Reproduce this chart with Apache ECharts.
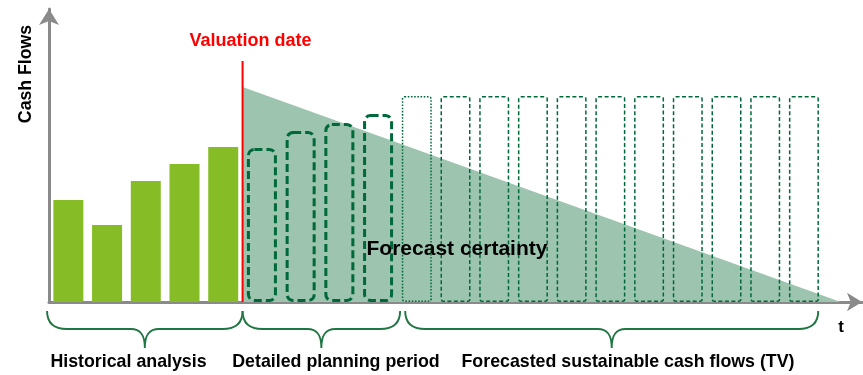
<!DOCTYPE html>
<html>
<head>
<meta charset="utf-8">
<title>Cash flow valuation periods</title>
<script src="https://cdn.jsdelivr.net/npm/echarts@6/dist/echarts.min.js"></script>
<style>
  html, body { margin: 0; padding: 0; background: #ffffff; }
  #chart { width: 863px; height: 375px; }
</style>
</head>
<body>
<div id="chart"></div>
<script>
// Periods are numbered from 0; each bar sits on its period index.
const historicalPeriods = [0, 1, 2, 3, 4];
const historicalCashFlows = [102, 77, 121, 138, 155];

const planningPeriods = [5, 6, 7, 8];
const planningCashFlows = [154, 171, 179, 188];

const terminalPeriods = [9, 10, 11, 12, 13, 14, 15, 16, 17, 18, 19];
const terminalCashFlows = [206, 206, 206, 206, 206, 206, 206, 206, 206, 206, 206];

// Valuation date sits between the last historical and first planned period.
const valuationDate = 4.5;
const valuationLineTop = 241;

// Forecast certainty wedge: full at the valuation date, zero at the horizon.
const certaintyX = [4.5, 19.95];
const certaintyY = [215, 0];

// Period ranges spanned by the three braces under the time axis.
const braceRanges = [[-0.55, 4.5], [4.5, 8.57], [8.7, 19.37]];
const sectionLabels = ['Historical analysis', 'Detailed planning period', 'Forecasted sustainable cash flows (TV)'];

const FONT = "'Liberation Sans', Arial, Helvetica, sans-serif";
const AXIS_GREY = '#8a8a8a';
const HIST_GREEN = '#86bc25';
const DARK_GREEN = '#00693a';
const WEDGE_GREEN = '#9cc4af';
const BRACE_GREEN = '#1f7642';

const chart = echarts.init(document.getElementById('chart'), null, { renderer: 'canvas' });

const pairs = (xs, ys) => xs.map((x, i) => [x, ys[i]]);

const option = {
  animation: false,
  backgroundColor: '#ffffff',
  grid: { left: 49, right: 1, top: 9, bottom: 73, containLabel: false },
  xAxis: {
    type: 'value',
    min: -0.5,
    max: 20.5,
    axisLine: {
      show: true,
      onZero: false,
      symbol: ['none', 'arrow'],
      symbolSize: [14, 15],
      lineStyle: { color: AXIS_GREY, width: 3 }
    },
    axisTick: { show: false },
    axisLabel: { show: false },
    splitLine: { show: false }
  },
  yAxis: {
    type: 'value',
    min: 0,
    max: 293,
    axisLine: {
      show: true,
      onZero: false,
      symbol: ['none', 'arrow'],
      symbolSize: [15, 16],
      lineStyle: { color: AXIS_GREY, width: 3 }
    },
    axisTick: { show: false },
    axisLabel: { show: false },
    splitLine: { show: false }
  },
  series: [
    {
      name: 'Forecast certainty',
      type: 'line',
      data: pairs(certaintyX, certaintyY),
      symbol: 'none',
      lineStyle: { width: 0 },
      areaStyle: { color: WEDGE_GREEN, opacity: 1 },
      z: 1
    },
    {
      name: 'Historical',
      type: 'bar',
      data: pairs(historicalPeriods, historicalCashFlows),
      barWidth: 30,
      barGap: '-100%',
      itemStyle: { color: HIST_GREEN },
      z: 3
    },
    {
      name: 'Planning',
      type: 'bar',
      data: pairs(planningPeriods, planningCashFlows),
      barWidth: 30,
      barGap: '-100%',
      itemStyle: {
        color: 'rgba(0,0,0,0)',
        borderColor: DARK_GREEN,
        borderWidth: 3,
        borderType: [8, 4],
        borderRadius: 6
      },
      z: 4
    },
    {
      name: 'Terminal value',
      type: 'bar',
      data: pairs(terminalPeriods, terminalCashFlows).map((d, i) => i === 0
        ? { value: d, itemStyle: { borderType: [1.6, 1.6] } }
        : d),
      barWidth: 30,
      barGap: '-100%',
      itemStyle: {
        color: 'rgba(0,0,0,0)',
        borderColor: DARK_GREEN,
        borderWidth: 1.5,
        borderType: [4, 2.5],
        borderRadius: 2
      },
      z: 4
    },
    {
      name: 'Valuation date',
      type: 'line',
      data: [[valuationDate, 0], [valuationDate, valuationLineTop]],
      symbol: 'none',
      lineStyle: { color: '#ff0000', width: 2 },
      z: 5
    },
    {
      name: 'Braces',
      type: 'custom',
      clip: false,
      data: braceRanges.map(r => [r[0], r[1], 0]),
      encode: { x: [0, 1], y: 2 },
      renderItem: function (params, api) {
        const a = api.coord([api.value(0), 0]);
        const b = api.coord([api.value(1), 0]);
        const x0 = a[0], x1 = b[0], xm = (x0 + x1) / 2;
        const yTop = a[1] + 9, yMid = yTop + 18, yTip = yMid + 19;
        const re = 20, rt = 14;
        const d = 'M' + x0 + ' ' + yTop +
          ' C' + x0 + ' ' + (yMid - 6) + ' ' + (x0 + 6) + ' ' + yMid + ' ' + (x0 + re) + ' ' + yMid +
          ' L' + (xm - rt) + ' ' + yMid +
          ' C' + (xm - 4) + ' ' + yMid + ' ' + xm + ' ' + (yMid + 6) + ' ' + xm + ' ' + yTip +
          ' C' + xm + ' ' + (yMid + 6) + ' ' + (xm + 4) + ' ' + yMid + ' ' + (xm + rt) + ' ' + yMid +
          ' L' + (x1 - re) + ' ' + yMid +
          ' C' + (x1 - 6) + ' ' + yMid + ' ' + x1 + ' ' + (yMid - 6) + ' ' + x1 + ' ' + yTop;
        return {
          type: 'path',
          shape: { pathData: d },
          style: { stroke: BRACE_GREEN, fill: null, lineWidth: 1.9 }
        };
      },
      z: 2
    }
  ],
  graphic: [
    {
      type: 'text', x: 250.5, y: 41,
      style: { text: 'Valuation date', fill: '#ff0000', font: 'bold 18px ' + FONT, textAlign: 'center', textVerticalAlign: 'middle' }
    },
    {
      type: 'text', x: 26, y: 74, rotation: Math.PI / 2,
      style: { text: 'Cash Flows', fill: '#000000', font: 'bold 17.7px ' + FONT, textAlign: 'center', textVerticalAlign: 'middle' }
    },
    {
      type: 'text', x: 457, y: 249, z: 10,
      style: { text: 'Forecast certainty', fill: '#000000', font: 'bold 21px ' + FONT, textAlign: 'center', textVerticalAlign: 'middle' }
    },
    {
      type: 'text', x: 841, y: 327,
      style: { text: 't', fill: '#000000', font: 'bold 17px ' + FONT, textAlign: 'center', textVerticalAlign: 'middle' }
    },
    {
      type: 'text', x: 128.5, y: 362,
      style: { text: sectionLabels[0], fill: '#000000', font: 'bold 17.8px ' + FONT, textAlign: 'center', textVerticalAlign: 'middle' }
    },
    {
      type: 'text', x: 336, y: 362,
      style: { text: sectionLabels[1], fill: '#000000', font: 'bold 17.8px ' + FONT, textAlign: 'center', textVerticalAlign: 'middle' }
    },
    {
      type: 'text', x: 628, y: 362,
      style: { text: sectionLabels[2], fill: '#000000', font: 'bold 17.8px ' + FONT, textAlign: 'center', textVerticalAlign: 'middle' }
    }
  ]
};

chart.setOption(option);
</script>
</body>
</html>
